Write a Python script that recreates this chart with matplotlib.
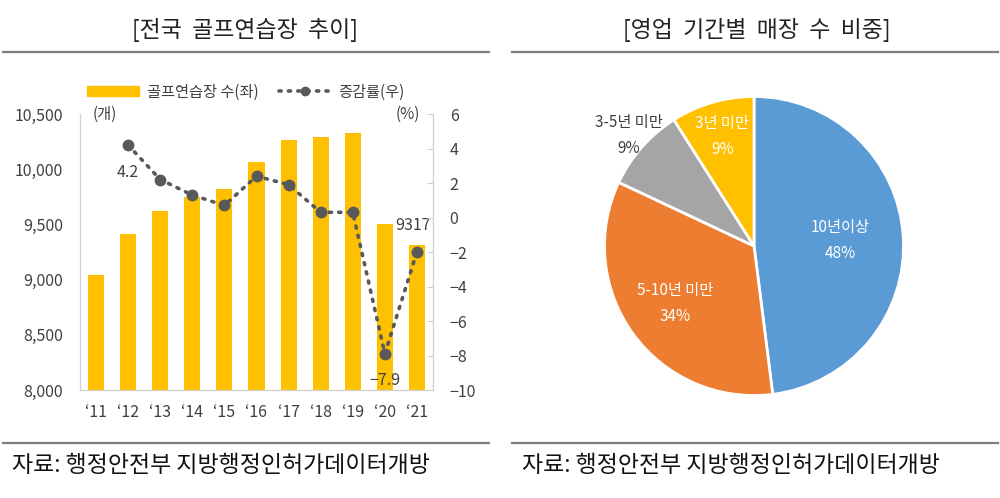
import numpy as np
import matplotlib
matplotlib.use("Agg")
import matplotlib.pyplot as plt
from matplotlib.lines import Line2D
from matplotlib.patches import Patch
from matplotlib.ticker import FuncFormatter

plt.rcParams['font.family'] = ['Noto Sans CJK KR', 'DejaVu Sans']

# --- data ---
years = ["‘11", "‘12", "‘13", "‘14", "‘15", "‘16", "‘17", "‘18", "‘19", "‘20", "‘21"]
ranges_count = [9040, 9410, 9620, 9750, 9820, 10065, 10265, 10290, 10325, 9507, 9317]
growth = [np.nan, 4.2, 2.2, 1.3, 0.7, 2.4, 1.9, 0.3, 0.3, -7.9, -2.0]

pie_labels = ["10년이상", "5-10년 미만", "3-5년 미만", "3년 미만"]
pie_shares = [48, 34, 9, 9]
pie_colors = ["#5B9BD5", "#ED7D31", "#A5A5A5", "#FFC000"]

bar_color = "#FFC000"
line_color = "#595959"
txt_color = "#404040"

fig = plt.figure(figsize=(10, 4.98), dpi=100)
W, H = 1000, 498

def fx(px):
    return px / W

def fy(py):
    return 1 - py / H

# titles and rules (document look)
fig.text(fx(245), fy(30), "[전국  골프연습장  추이]", ha='center', va='center', fontsize=16.5, color='#222222')
fig.text(fx(757), fy(30), "[영업  기간별  매장  수  비중]", ha='center', va='center', fontsize=16.5, color='#222222')
for x0, x1 in [(3, 489), (512, 998)]:
    fig.add_artist(Line2D([fx(x0), fx(x1)], [fy(52), fy(52)], color='#7f7f7f', lw=1.6))
    fig.add_artist(Line2D([fx(x0), fx(x1)], [fy(443), fy(443)], color='#7f7f7f', lw=1.6))
fig.text(fx(12), fy(465), "자료: 행정안전부 지방행정인허가데이터개방", ha='left', va='center', fontsize=16.5, color='#111111')
fig.text(fx(522), fy(465), "자료: 행정안전부 지방행정인허가데이터개방", ha='left', va='center', fontsize=16.5, color='#111111')

# --- bar + line chart ---
ax = fig.add_axes([fx(80), fy(390), fx(433) - fx(80), (390 - 114) / H])
x = np.arange(len(years))
ax.bar(x, ranges_count, width=0.5, color=bar_color, zorder=2)
ax.set_xlim(-0.5, len(years) - 0.5)
ax.set_ylim(8000, 10500)
ax.set_yticks(np.arange(8000, 10501, 500))
ax.yaxis.set_major_formatter(FuncFormatter(lambda v, p: f"{int(v):,}"))
ax.set_xticks(x)
ax.set_xticklabels(years)
ax.spines['top'].set_visible(False)
for s in ['left', 'bottom', 'right']:
    ax.spines[s].set_color('#d0d0d0')
ax.tick_params(axis='y', length=0, labelsize=11.5, colors=txt_color, pad=12)
ax.tick_params(axis='x', length=0, labelsize=11.5, colors=txt_color, pad=10)

ax2 = ax.twinx()
ax2.plot(x, growth, color=line_color, lw=2.6, linestyle=(0, (0.6, 2.0)), dash_capstyle='round',
         marker='o', markersize=7.5, zorder=3)
ax2.set_ylim(-10, 6)
ax2.set_yticks(np.arange(-10, 7, 2))
ax2.spines['top'].set_visible(False)
for s in ['left', 'bottom', 'right']:
    ax2.spines[s].set_color('#d0d0d0')
ax2.tick_params(axis='y', length=4, direction='in', color='#d0d0d0', labelsize=11.5, labelcolor=txt_color, pad=12)

ax.text(0.07, 1.0, "(개)", transform=ax.transAxes, ha='center', va='center', fontsize=11, color=txt_color)
ax.text(0.93, 1.0, "(%)", transform=ax.transAxes, ha='center', va='center', fontsize=11, color=txt_color)

# data labels
ax2.annotate(f"{growth[1]:.1f}", (x[1], growth[1]), xytext=(0, -20), textcoords='offset points',
             ha='center', va='center', fontsize=11.5, color=txt_color)
ax2.annotate(f"{growth[9]:.1f}".replace("-", "−"), (x[9], growth[9]), xytext=(0, -19), textcoords='offset points',
             ha='center', va='center', fontsize=11.5, color=txt_color)
ax.annotate(f"{ranges_count[10]}", (x[10], ranges_count[10]), xytext=(-3, 14), textcoords='offset points',
            ha='center', va='center', fontsize=11.5, color=txt_color)

handles = [Patch(color=bar_color),
           Line2D([0], [0], color=line_color, lw=2.6, linestyle=(0, (0.6, 2.0)), dash_capstyle='round',
                  marker='o', markersize=6)]
ax.legend(handles, ["골프연습장 수(좌)", "증감률(우)"], loc='center', bbox_to_anchor=(0.47, 1.08),
          ncol=2, frameon=False, fontsize=11, handlelength=3.4, handleheight=0.6, columnspacing=1.3,
          handletextpad=0.5, labelcolor=txt_color)

# --- pie chart ---
cx, cy, r = 754, 246, 151
pax = fig.add_axes([fx(cx - r), fy(cy + r), 2 * r / W, 2 * r / H])
wedges, _ = pax.pie(pie_shares, colors=pie_colors, startangle=90, counterclock=False,
                    wedgeprops=dict(edgecolor='white', linewidth=2))
pax.set_xlim(-1.01, 1.01)
pax.set_ylim(-1.01, 1.01)
pax.set_aspect('equal')
label_r = [0.58, 0.65, 1.12, 0.76]
label_c = ['white', 'white', txt_color, 'white']
for w, lab, share, rr, c in zip(wedges, pie_labels, pie_shares, label_r, label_c):
    ang = np.deg2rad((w.theta1 + w.theta2) / 2)
    pax.text(rr * np.cos(ang), rr * np.sin(ang), f"{lab}\n{share}%", ha='center', va='center',
             fontsize=11, color=c, linespacing=1.7)

fig.savefig("out.png", dpi=100)
